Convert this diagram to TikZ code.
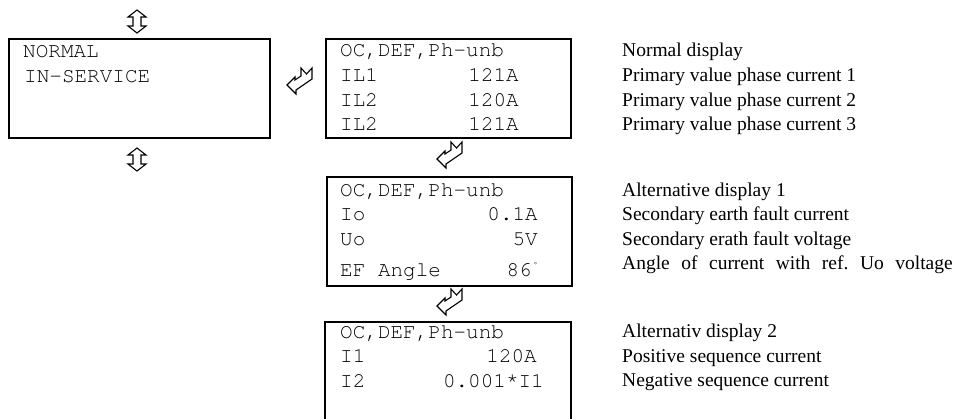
\documentclass[tikz,border=0pt]{standalone}
\usepackage{fontspec}
\setmainfont{Liberation Serif}
\setmonofont{texgyrecursor-regular.otf}
\tikzset{
  dispbox/.style={draw, line width=1.5pt, anchor=north west, inner sep=0pt},
  lcd/.style={font=\ttfamily\fontsize{21}{24}\selectfont, inner sep=0pt, anchor=base west},
  lcdr/.style={font=\ttfamily\fontsize{21}{24}\selectfont, inner sep=0pt, anchor=base east},
  desc/.style={font=\fontsize{19.5}{23}\selectfont, inner sep=0pt, anchor=base west},
  glyph/.style={draw, line width=1.1pt, fill=white, line join=miter},
  updown/.pic={
    \path[glyph] (0,-11.5) -- (9,-4.5) -- (4,-4.5) -- (4,4.5) -- (9,4.5) -- (0,11.5)
      -- (-9,4.5) -- (-4,4.5) -- (-4,-4.5) -- (-9,-4.5) -- cycle;
  },
  enterarrow/.pic={
    \path[glyph] (0,17) -- (8,9) -- (8,12) -- (14,8) -- (14,0) -- (19.5,6) -- (25,0)
      -- (25,11) -- (9,22) -- (9,26) -- cycle;
  }
}
\begin{document}
\begin{tikzpicture}[x=1pt, y=-1pt]
\useasboundingbox (0,0) rectangle (964,418);
% boxes
\node[dispbox, minimum width=261pt, minimum height=99pt] (b1) at (8,38) {};
\node[dispbox, minimum width=245pt, minimum height=99pt] (b2) at (325,38) {};
\node[dispbox, minimum width=245pt, minimum height=109pt] (b3) at (326,176) {};
\draw[line width=1.5pt] (325,430) -- (325,322) -- (571,322) -- (571,430);
\coordinate (b4) at (325,322);
% box 1 text
\node[lcd] (n1) at (23,57) {NORMAL};
\node[lcd] (n2) at (24,82) {IN-SERVICE};
% box 2
\node[lcd] (t21) at (340,56) {OC,DEF,Ph-unb};
\node[lcd] (t22) at (340,81) {IL1};
\node[lcd] (t23) at (340,106) {IL2};
\node[lcd] (t24) at (340,130) {IL2};
\node[lcdr] (v22) at (519,81) {121A};
\node[lcdr] (v23) at (519,106) {120A};
\node[lcdr] (v24) at (519,130) {121A};
% box 3
\node[lcd] (t31) at (340,196) {OC,DEF,Ph-unb};
\node[lcd] (t32) at (340,220) {Io};
\node[lcd] (t33) at (340,245) {Uo};
\node[lcd] (t34) at (340,276) {EF Angle};
\node[lcdr] (v32) at (538,220) {0.1A};
\node[lcdr] (v33) at (538,245) {5V};
\node[lcdr] (v34) at (532,276) {86};
\node[inner sep=0pt, anchor=base west, font=\ttfamily\fontsize{8}{8}\selectfont] (deg) at (533,267) {°};
% box 4
\node[lcd] (t41) at (340,338) {OC,DEF,Ph-unb};
\node[lcd] (t42) at (340,362) {I1};
\node[lcd] (t43) at (340,387) {I2};
\node[lcdr] (v42) at (537,362) {120A};
\node[lcdr] (v43) at (544,387) {0.001*I1};
% descriptions
\node[desc] (d21) at (622,56) {Normal display};
\node[desc] (d22) at (622,81) {Primary value phase current 1};
\node[desc] (d23) at (622,106) {Primary value phase current 2};
\node[desc] (d24) at (622,130) {Primary value phase current 3};
\node[desc] (d31) at (622,196) {Alternative display 1};
\node[desc] (d32) at (622,220.5) {Secondary earth fault current};
\node[desc] (d33) at (622,245) {Secondary erath fault voltage};
\node[desc] (d34) at (622,269.5) {\spaceskip=11.5pt\xspaceskip=11.5pt Angle of current with ref. Uo voltage};
\node[desc] (d41) at (622,337) {Alternativ display 2};
\node[desc] (d42) at (622,362) {Positive sequence current};
\node[desc] (d43) at (622,386) {Negative sequence current};
% navigation glyphs
\pic at (137,21.5) {updown};
\pic at (137,159.5) {updown};
\pic at (287,68) {enterarrow};
\pic at (437,142) {enterarrow};
\pic at (437,289) {enterarrow};
\end{tikzpicture}
\end{document}
